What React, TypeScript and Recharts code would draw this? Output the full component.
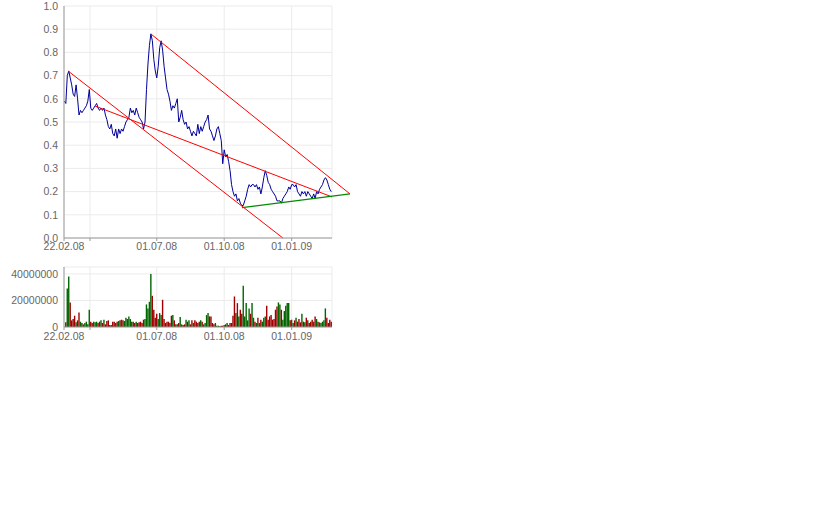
import React from "react";
import {
  Bar,
  BarChart,
  CartesianGrid,
  Cell,
  Line,
  LineChart,
  ReferenceLine,
  XAxis,
  YAxis,
} from "recharts";

// x axis runs in calendar days counted from 22.02.08
const tickDays = [3.5, 39, 130, 222, 314];
const tickLabels = ["22.02.08", "", "01.07.08", "01.10.08", "01.01.09"];
const firstDay = 4;
const dayStep = 2;

const priceValues = [
  0.59, 0.58, 0.7, 0.72, 0.69, 0.66, 0.62, 0.61, 0.66, 0.6,
  0.53, 0.55, 0.54, 0.55, 0.56, 0.57, 0.59, 0.64, 0.56, 0.55,
  0.56, 0.57, 0.58, 0.56, 0.55, 0.56, 0.55, 0.56, 0.53, 0.51,
  0.48, 0.47, 0.49, 0.45, 0.44, 0.47, 0.43, 0.47, 0.45, 0.47,
  0.46, 0.48, 0.5, 0.51, 0.52, 0.56, 0.54, 0.55, 0.53, 0.56,
  0.54, 0.52, 0.51, 0.5, 0.47, 0.5, 0.64, 0.75, 0.83, 0.88,
  0.85, 0.77, 0.72, 0.69, 0.74, 0.82, 0.85, 0.81, 0.74, 0.69,
  0.64, 0.62, 0.59, 0.55, 0.57, 0.56, 0.58, 0.6, 0.5, 0.52,
  0.55, 0.51, 0.49, 0.5, 0.47, 0.48, 0.46, 0.44, 0.46, 0.45,
  0.44, 0.49, 0.45, 0.48, 0.46, 0.48, 0.5, 0.51, 0.53, 0.47,
  0.46, 0.44, 0.42, 0.44, 0.47, 0.48, 0.45, 0.42, 0.32, 0.38,
  0.35, 0.36, 0.33, 0.29, 0.23, 0.2, 0.18, 0.19, 0.16, 0.17,
  0.15, 0.14, 0.14, 0.16, 0.18, 0.21, 0.23, 0.22, 0.23, 0.23,
  0.22, 0.23, 0.21, 0.22, 0.19, 0.22, 0.26, 0.29, 0.27, 0.24,
  0.23, 0.21, 0.2, 0.19, 0.18, 0.16, 0.16, 0.16, 0.15, 0.17,
  0.18, 0.19, 0.2, 0.22, 0.21, 0.23, 0.23, 0.22, 0.23, 0.2,
  0.19, 0.18, 0.2, 0.19, 0.2, 0.18, 0.2, 0.19, 0.18, 0.17,
  0.19, 0.17, 0.2, 0.19, 0.21, 0.22, 0.23, 0.25, 0.26, 0.25,
  0.23, 0.21, 0.2,
];

// millions of shares
const volumeValues = [
  0, 3.5, 29, 38, 18.5, 5, 6, 8.5, 3.5, 5,
  11, 4, 3, 2, 3, 4, 2, 13, 4, 3,
  4, 3.5, 4, 3, 4, 5, 3, 5.5, 2, 4.5,
  5, 1.5, 1.5, 4, 4, 3, 4, 4.5, 5, 5.5,
  5, 4.5, 7, 6, 8, 6, 4, 4, 3, 4,
  3, 3.5, 4, 3, 5.5, 6, 17, 14, 19, 40,
  23.5, 13, 7, 10, 6, 10.5, 9, 20.5, 6, 3,
  4, 4, 3, 8.5, 9, 5, 2, 2, 3, 7.5,
  2, 1.5, 2, 5.5, 4, 5, 2, 5, 3, 5,
  4, 3, 4, 5, 4, 2, 3, 9, 10.5, 8,
  8, 3, 2, 3, 1, 1, 0.5, 1, 1, 1.5,
  2, 3, 1.5, 3, 3, 8.5, 23, 10.5, 18, 8,
  13, 10, 31, 8, 18, 5, 14, 10, 18, 7,
  4, 3, 7, 3, 5.5, 4, 7, 8, 16, 5.5,
  8, 9, 5.5, 6, 13, 15.5, 18.5, 17, 13, 5.5,
  12, 16, 18, 18, 5, 5.5, 3, 5, 7, 4,
  6, 3.5, 10, 4, 3.5, 7, 5, 3, 4, 5.5,
  4, 8, 6, 4, 3.5, 3, 4, 5, 14, 7,
  3, 5.5, 4,
];

// trend channel: [startDay, startValue, endDay, endValue]
const redTrends = [
  [9, 0.72, 302, 0.0],
  [45.8, 0.569, 369, 0.177],
  [122.2, 0.879, 393.5, 0.19],
];
const greenTrend = [246.2, 0.131, 393.5, 0.19];

const priceTicks = [0, 0.1, 0.2, 0.3, 0.4, 0.5, 0.6, 0.7, 0.8, 0.9, 1.0];
const volumeTicks = [0, 20000000, 40000000];

const data = priceValues.map((price, i) => ({
  day: firstDay + dayStep * i,
  price,
  volume: volumeValues[i] * 1000000,
}));

const font = { fontSize: 10.5, fill: "#666", fontFamily: "'Liberation Sans', Arial, sans-serif" };
const axisColor = "#999";
const gridColor = "#ebebeb";
const formatDay = (d: number) => tickLabels[tickDays.indexOf(d)] ?? "";

export default function App() {
  return (
    <div style={{ position: "absolute", left: 0, top: 0, width: 840, height: 525, background: "#fff" }}>
      <div style={{ position: "absolute", left: 0, top: 0 }}>
        <LineChart width={360} height={260} data={data} margin={{ top: 6, right: 28, bottom: 0, left: 0 }}>
          <CartesianGrid stroke={gridColor} />
          <XAxis
            dataKey="day"
            type="number"
            domain={[3.5, 369]}
            ticks={tickDays}
            tickFormatter={formatDay}
            tick={font}
            tickSize={3}
            tickMargin={2}
            height={22}
            stroke={axisColor}
            interval={0}
          />
          <YAxis
            type="number"
            domain={[0, 1]}
            ticks={priceTicks}
            tickFormatter={(v: number) => v.toFixed(1)}
            tick={font}
            tickLine={false}
            tickSize={4}
            tickMargin={2}
            width={64}
            stroke={axisColor}
            interval={0}
          />
          <Line
            type="linear"
            dataKey="price"
            stroke="#000099"
            strokeWidth={1}
            dot={false}
            isAnimationActive={false}
          />
          {redTrends.map((t, i) => (
            <ReferenceLine
              key={i}
              segment={[{ x: t[0], y: t[1] }, { x: t[2], y: t[3] }]}
              stroke="#ff0000"
              strokeWidth={1}
              ifOverflow="visible"
            />
          ))}
          <ReferenceLine
            segment={[{ x: greenTrend[0], y: greenTrend[1] }, { x: greenTrend[2], y: greenTrend[3] }]}
            stroke="#008a00"
            strokeWidth={1.2}
            ifOverflow="visible"
          />
        </LineChart>
      </div>
      <div style={{ position: "absolute", left: 0, top: 260 }}>
        <BarChart width={360} height={87} data={data} margin={{ top: 7, right: 28, bottom: 0, left: 0 }}>
          <CartesianGrid stroke={gridColor} />
          <XAxis
            dataKey="day"
            type="number"
            domain={[3.5, 369]}
            ticks={tickDays}
            tickFormatter={formatDay}
            tick={font}
            tickSize={3}
            tickMargin={3}
            height={20}
            stroke={axisColor}
            interval={0}
          />
          <YAxis
            type="number"
            domain={[0, 45200000]}
            ticks={volumeTicks}
            tick={font}
            tickLine={false}
            tickSize={4}
            tickMargin={2}
            width={64}
            stroke={axisColor}
            interval={0}
          />
          <Bar dataKey="volume" barSize={1.4} isAnimationActive={false}>
            {data.map((d, i) => (
              <Cell
                key={i}
                fill={i > 0 && d.price < data[i - 1].price ? "#a00000" : "#006600"}
              />
            ))}
          </Bar>
        </BarChart>
      </div>
    </div>
  );
}
